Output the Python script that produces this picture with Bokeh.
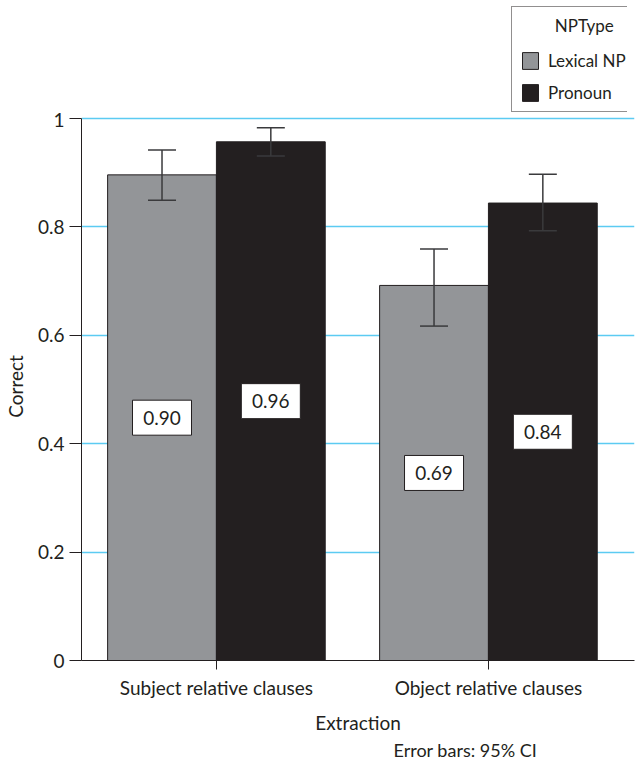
from bokeh.plotting import figure
from bokeh.layouts import column
from bokeh.models import (ColumnDataSource, Range1d, FixedTicker, Whisker, TeeHead,
                          Legend, LegendItem, Title)
from bokeh.core.properties import value
from bokeh.embed import file_html
from bokeh.resources import INLINE

# ---- data ----
categories = ["Subject relative clauses", "Object relative clauses"]
np_types = ["Lexical NP", "Pronoun"]
lexical_mean = [0.896, 0.692]
lexical_lower = [0.849, 0.617]
lexical_upper = [0.942, 0.759]
pronoun_mean = [0.957, 0.844]
pronoun_lower = [0.931, 0.793]
pronoun_upper = [0.983, 0.897]
lexical_labels = ["0.90", "0.69"]
pronoun_labels = ["0.96", "0.84"]
y_ticks = [0, 0.2, 0.4, 0.6, 0.8, 1]
y_tick_labels = ["0", "0.2", "0.4", "0.6", "0.8", "1"]

FONT = "Lato"
TXT = "#231F20"
GRAY = "#939598"
BLACK = "#231F20"
GRID = "#5CCBF2"
BW = 0.4
FS = "19px"
PAD_TOP = 6          # px of frame above the 1.0 line
PX_PER_UNIT = 542

idx = list(range(len(categories)))
src_lex = ColumnDataSource(dict(
    x=[i - BW / 2 for i in idx], top=lexical_mean, lower=lexical_lower,
    upper=lexical_upper, mid=[v / 2 for v in lexical_mean], label=lexical_labels))
src_pro = ColumnDataSource(dict(
    x=[i + BW / 2 for i in idx], top=pronoun_mean, lower=pronoun_lower,
    upper=pronoun_upper, mid=[v / 2 for v in pronoun_mean], label=pronoun_labels))

# ---------- main chart ----------
p = figure(frame_width=553, frame_height=PX_PER_UNIT + PAD_TOP, output_backend="svg",
           toolbar_location=None,
           x_range=Range1d(-0.496, 1.537),
           y_range=Range1d(0, 1 + PAD_TOP / PX_PER_UNIT),
           min_border_left=72, min_border_right=2, min_border_top=0,
           min_border_bottom=0)
p.outline_line_color = None
p.background_fill_color = "white"

r_lex = p.vbar(x="x", top="top", bottom=0, width=BW, source=src_lex,
               fill_color=GRAY, line_color=BLACK, line_width=1)
r_pro = p.vbar(x="x", top="top", bottom=0, width=BW, source=src_pro,
               fill_color=BLACK, line_color=BLACK, line_width=1)

for src in (src_lex, src_pro):
    w = Whisker(source=src, base="x", lower="lower", upper="upper",
                line_color="#3a3a3c", line_width=1.5, level="overlay",
                upper_head=TeeHead(size=28, line_color="#3a3a3c", line_width=1.5),
                lower_head=TeeHead(size=28, line_color="#3a3a3c", line_width=1.5))
    p.add_layout(w)
    p.rect(x="x", y="mid", width=59, height=35, width_units="screen",
           height_units="screen", source=src, fill_color="white",
           line_color=BLACK, line_width=1)
    p.text(x="x", y="mid", text="label", source=src, text_align="center",
           text_baseline="middle", text_font=value(FONT), text_font_size=FS,
           text_color=TXT)

p.xgrid.grid_line_color = None
p.ygrid.grid_line_color = GRID
p.ygrid.grid_line_width = 1.3
p.ygrid.ticker = FixedTicker(ticks=y_ticks)

p.yaxis.ticker = FixedTicker(ticks=y_ticks)
p.yaxis.bounds = (0, 1)
p.yaxis.major_label_overrides = {t: l for t, l in zip(y_ticks, y_tick_labels)}
p.xaxis.ticker = FixedTicker(ticks=idx)
p.xaxis.major_label_overrides = {i: c for i, c in zip(idx, categories)}

for ax in (p.xaxis[0], p.yaxis[0]):
    ax.axis_line_color = BLACK
    ax.major_tick_line_color = BLACK
    ax.minor_tick_line_color = None
    ax.major_tick_in = 0
    ax.major_label_text_font = FONT
    ax.major_label_text_font_size = FS
    ax.major_label_text_color = TXT
    ax.axis_label_text_font = FONT
    ax.axis_label_text_font_size = FS
    ax.axis_label_text_font_style = "normal"
    ax.axis_label_text_color = TXT
    ax.axis_label_text_line_height = 1.0

p.yaxis.major_tick_out = 12
p.yaxis.major_label_standoff = 5
p.yaxis.axis_label = "Correct"
p.yaxis.axis_label_standoff = 8
p.xaxis.major_tick_out = 9
p.xaxis.major_label_standoff = 6
p.xaxis.axis_label = "Extraction"
p.xaxis.axis_label_standoff = 9

note = Title(text="Error bars: 95% CI", align="left", offset=312, standoff=0,
             text_font=FONT, text_font_size="18px", text_font_style="normal",
             text_color=TXT, text_line_height=1.0)
p.add_layout(note, "below")

# ---------- legend strip above the chart ----------
lg = figure(frame_width=627, frame_height=112, output_backend="svg",
            toolbar_location=None, x_range=Range1d(10, 11), y_range=Range1d(10, 11),
            min_border=0)
lg.axis.visible = False
lg.grid.visible = False
lg.outline_line_color = None
l_lex = lg.vbar(x="x", top="top", bottom=0, width=BW, source=src_lex,
                fill_color=GRAY, line_color=BLACK, line_width=1)
l_pro = lg.vbar(x="x", top="top", bottom=0, width=BW, source=src_pro,
                fill_color=BLACK, line_color=BLACK, line_width=1)

legend = Legend(items=[LegendItem(label=np_types[0], renderers=[l_lex]),
                       LegendItem(label=np_types[1], renderers=[l_pro])],
                title="\u00a0" * 8 + "NPType", location=(511, 0.5),
                orientation="vertical", margin=0, padding=8,
                border_line_color=BLACK, border_line_width=1,
                background_fill_color="white", background_fill_alpha=1,
                glyph_width=20, glyph_height=21, label_height=21, spacing=11,
                label_standoff=8, title_standoff=14,
                label_text_font=FONT, label_text_font_size="17px",
                label_text_color=TXT, title_text_font=FONT,
                title_text_font_size="17px", title_text_font_style="normal",
                title_text_color=TXT)
lg.add_layout(legend, "center")

layout = column(lg, p, spacing=0)
open("out.html", "w").write(file_html(layout, INLINE))
